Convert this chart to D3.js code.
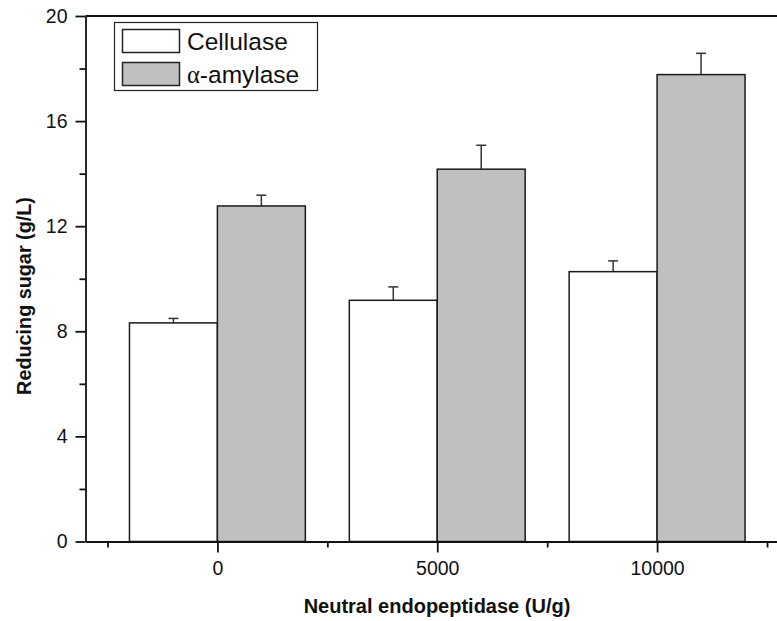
<!DOCTYPE html>
<html>
<head>
<meta charset="utf-8">
<script src="https://cdn.jsdelivr.net/npm/d3@7"></script>
<style>
  html, body { margin: 0; padding: 0; background: #fff; }
  svg { display: block; font-family: Arial, "Liberation Sans", Helvetica, sans-serif; }
</style>
</head>
<body>
<svg id="chart" width="777" height="621"></svg>
<script>
// Neutral endopeptidase dose (U/g)
const doses = [0, 5000, 10000];
// Reducing sugar (g/L), mean and standard deviation
const cellulase = [8.32, 9.18, 10.27];
const cellulaseErr = [0.17, 0.51, 0.41];
const amylase = [12.77, 14.17, 17.77];
const amylaseErr = [0.41, 0.91, 0.81];
const seriesNames = ["Cellulase", "-amylase"];
const yMajorTicks = [0, 4, 8, 12, 16, 20];
const yMinorTicks = [2, 6, 10, 14, 18];
const xMajorTicks = [0, 5000, 10000];
const xMinorTicks = [-2500, 2500, 7500, 12500];

const svg = d3.select("#chart");
const barWidth = 2000; // in dose units

const x = d3.scaleLinear().domain([-3000, 13000]).range([85.5, 789]);
const y = d3.scaleLinear().domain([0, 20]).range([541.5, 16]);

const fills = ["#ffffff", "#c0c0c0"];
const series = [
  { values: cellulase, errs: cellulaseErr, offset: -barWidth, fill: fills[0] },
  { values: amylase, errs: amylaseErr, offset: 0, fill: fills[1] }
];

// error bars (upper half only), drawn under the bars
series.forEach(s => {
  const g = svg.append("g").attr("stroke", "#333").attr("stroke-width", 1.5);
  doses.forEach((d, i) => {
    const cx = x(d + s.offset + barWidth / 2);
    g.append("line").attr("x1", cx).attr("x2", cx)
      .attr("y1", y(s.values[i])).attr("y2", y(s.values[i] + s.errs[i]));
    g.append("line").attr("x1", cx - 5).attr("x2", cx + 5)
      .attr("y1", y(s.values[i] + s.errs[i])).attr("y2", y(s.values[i] + s.errs[i]));
  });
});

// bars
series.forEach(s => {
  svg.append("g").selectAll("rect").data(doses).join("rect")
    .attr("x", d => x(d + s.offset))
    .attr("width", x(barWidth) - x(0))
    .attr("y", (d, i) => y(s.values[i]))
    .attr("height", (d, i) => y(0) - y(s.values[i]))
    .attr("fill", s.fill)
    .attr("stroke", "#1a1a1a")
    .attr("stroke-width", 1.5);
});

// y axis (major + minor ticks)
svg.append("g").attr("transform", `translate(${x(-3000)},0)`)
  .call(d3.axisLeft(y).tickValues(yMajorTicks).tickSize(10).tickPadding(8).tickSizeOuter(0));
svg.append("g").attr("transform", `translate(${x(-3000)},0)`)
  .call(d3.axisLeft(y).tickValues(yMinorTicks).tickSize(6).tickFormat("").tickSizeOuter(0))
  .select(".domain").remove();

// x axis (major + minor ticks)
svg.append("g").attr("transform", `translate(0,${y(0)})`)
  .call(d3.axisBottom(x).tickValues(xMajorTicks).tickSize(11).tickPadding(9).tickSizeOuter(0).tickFormat(d3.format("d")));
svg.append("g").attr("transform", `translate(0,${y(0)})`)
  .call(d3.axisBottom(x).tickValues(xMinorTicks).tickSize(6).tickFormat("").tickSizeOuter(0))
  .select(".domain").remove();

svg.selectAll(".domain, .tick line").attr("stroke", "#111").attr("stroke-width", 1.8);
svg.selectAll(".tick text").attr("font-size", 19.5).attr("fill", "#111")
  .attr("font-family", "Arial, 'Liberation Sans', sans-serif");

// top frame line
svg.append("line").attr("x1", x(-3000)).attr("x2", x(13000))
  .attr("y1", y(20)).attr("y2", y(20))
  .attr("stroke", "#111").attr("stroke-width", 2.2);

// axis titles
svg.append("text").attr("x", 437).attr("y", 613).attr("text-anchor", "middle")
  .attr("font-size", 20).attr("font-weight", "bold").attr("fill", "#111")
  .text("Neutral endopeptidase (U/g)");
svg.append("text").attr("transform", "translate(31,296) rotate(-90)")
  .attr("text-anchor", "middle").attr("font-size", 19.8).attr("font-weight", "bold").attr("fill", "#111")
  .text("Reducing sugar (g/L)");

// legend
const lg = svg.append("g");
lg.append("rect").attr("x", 114.5).attr("y", 22.5).attr("width", 203).attr("height", 68)
  .attr("fill", "#fff").attr("stroke", "#222").attr("stroke-width", 1.2);
[0, 1].forEach(i => {
  const top = 29.5 + i * 33;
  lg.append("rect").attr("x", 122.5).attr("y", top).attr("width", 57).attr("height", 23)
    .attr("fill", fills[i]).attr("stroke", "#222").attr("stroke-width", 1.5);
  const t = lg.append("text").attr("x", 187).attr("y", top + 20)
    .attr("font-size", 24.5).attr("fill", "#111");
  if (i === 1) {
    t.append("tspan").attr("font-family", "'Liberation Serif', 'DejaVu Serif', serif").text("α");
  }
  t.append("tspan").text(seriesNames[i]);
});
</script>
</body>
</html>
